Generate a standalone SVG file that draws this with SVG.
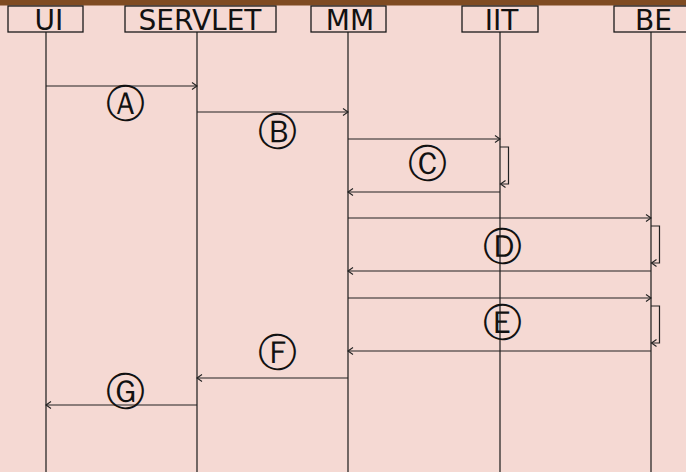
<svg xmlns="http://www.w3.org/2000/svg" width="686" height="472" viewBox="0 0 686 472">
<defs>
<style>
.bg{fill:#f5d9d3}
.box{fill:none;stroke:#1a1a1a;stroke-width:1.3}
.life{stroke:#1a1a1a;stroke-width:1.2;fill:none}
.msg{stroke:#222;stroke-width:1.2;fill:none;marker-end:url(#ah)}
.self{stroke:#222;stroke-width:1.2;fill:none;marker-end:url(#ah)}
.hd{font-family:"DejaVu Sans",sans-serif;font-size:28px;fill:#111;text-anchor:middle}
.lb{font-family:"DejaVu Sans",sans-serif;font-size:39px;fill:#111;text-anchor:middle}
</style>
<marker id="ah" markerWidth="8" markerHeight="8" refX="6" refY="4" orient="auto" markerUnits="userSpaceOnUse">
<path d="M1,0.5 L6,4 L1,7.5" fill="none" stroke="#222" stroke-width="1.1"/>
</marker>
</defs>
<rect class="bg" x="0" y="0" width="686" height="472"/>
<rect x="0" y="0" width="686" height="5.5" fill="#7f4b22"/>
<g id="lifelines">
<line class="life" x1="46" y1="32" x2="46" y2="472"/>
<line class="life" x1="197" y1="32" x2="197" y2="472"/>
<line class="life" x1="348" y1="32" x2="348" y2="472"/>
<line class="life" x1="500" y1="32" x2="500" y2="472"/>
<line class="life" x1="651" y1="32" x2="651" y2="472"/>
</g>
<g id="node-UI"><rect class="box" x="8" y="6" width="75" height="26"/><text class="hd" x="49" y="30">UI</text></g>
<g id="node-SERVLET"><rect class="box" x="125" y="6" width="151" height="26"/><text class="hd" x="200" y="30">SERVLET</text></g>
<g id="node-MM"><rect class="box" x="311" y="6" width="75" height="26"/><text class="hd" x="350" y="30">MM</text></g>
<g id="node-IIT"><rect class="box" x="462" y="6" width="76" height="26"/><text class="hd" x="501.5" y="30">IIT</text></g>
<g id="node-BE"><rect class="box" x="614" y="6" width="76" height="26"/><text class="hd" x="653.5" y="30">BE</text></g>
<g id="connectors">
<line class="msg" x1="46" y1="86" x2="197" y2="86"/>
<line class="msg" x1="197" y1="112" x2="348" y2="112"/>
<line class="msg" x1="348" y1="139" x2="500" y2="139"/>
<path class="self" d="M500,147 H508.5 V184 H500.5"/>
<line class="msg" x1="500" y1="192" x2="348" y2="192"/>
<line class="msg" x1="348" y1="218" x2="651" y2="218"/>
<path class="self" d="M651,226 H659.5 V263 H651.5"/>
<line class="msg" x1="651" y1="271" x2="348" y2="271"/>
<line class="msg" x1="348" y1="298" x2="651" y2="298"/>
<path class="self" d="M651,306 H659.5 V343 H651.5"/>
<line class="msg" x1="651" y1="351" x2="348" y2="351"/>
<line class="msg" x1="348" y1="378" x2="197" y2="378"/>
<line class="msg" x1="197" y1="405" x2="46" y2="405"/>
</g>
<g id="labels">
<text class="lb" x="125" y="117">Ⓐ</text>
<text class="lb" x="277" y="145">Ⓑ</text>
<text class="lb" x="427" y="177">Ⓒ</text>
<text class="lb" x="502" y="260">Ⓓ</text>
<text class="lb" x="502" y="336">Ⓔ</text>
<text class="lb" x="277" y="366">Ⓕ</text>
<text class="lb" x="125" y="405">Ⓖ</text>
</g>
</svg>
